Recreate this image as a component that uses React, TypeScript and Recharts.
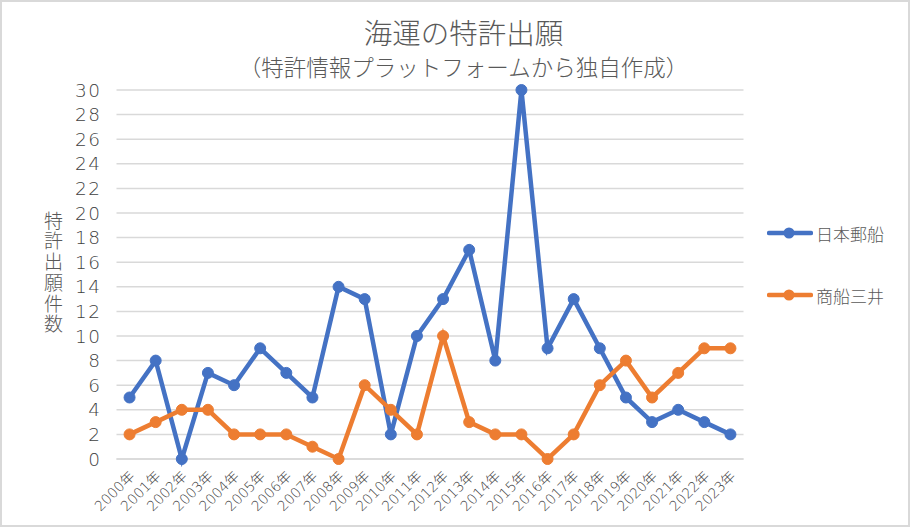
import React from "react";
import { LineChart, Line, XAxis, YAxis, CartesianGrid } from "recharts";

const years = ["2000年","2001年","2002年","2003年","2004年","2005年","2006年","2007年","2008年","2009年","2010年","2011年","2012年","2013年","2014年","2015年","2016年","2017年","2018年","2019年","2020年","2021年","2022年","2023年"];
const nyk = [5, 8, 0, 7, 6, 9, 7, 5, 14, 13, 2, 10, 13, 17, 8, 30, 9, 13, 9, 5, 3, 4, 3, 2];
const mol = [2, 3, 4, 4, 2, 2, 2, 1, 0, 6, 4, 2, 10, 3, 2, 2, 0, 2, 6, 8, 5, 7, 9, 9];
const yTicks = [0, 2, 4, 6, 8, 10, 12, 14, 16, 18, 20, 22, 24, 26, 28, 30];
const seriesNames = ["日本郵船", "商船三井"];
const title = "海運の特許出願";
const subtitle = "（特許情報プラットフォームから独自作成）";
const yLabel = "特許出願件数";

const data = years.map((y, i) => ({ year: y, nyk: nyk[i], mol: mol[i] }));

const BLUE = "#4472C4";
const ORANGE = "#ED7D31";
const TEXT = "#595959";
const NUMC = "#3f3f3f";
const JP = "'Noto Sans CJK JP', 'Noto Sans', sans-serif";
const NUM = "'DejaVu Sans', 'Noto Sans CJK JP', sans-serif";

const XTick = (props: any) => {
  const { x, y, payload } = props;
  return (
    <text
      transform={`translate(${x + 6},${y + 18}) rotate(-45)`}
      textAnchor="end"
      fontSize={14}
      fontFamily={NUM}
      fontWeight={300}
      fill={NUMC}
    >
      {payload.value}
    </text>
  );
};

const YTick = (props: any) => {
  const { x, y, payload } = props;
  return (
    <text x={x} y={y} dy={6.5} textAnchor="end" fontSize={18.5} letterSpacing={1.5} fontFamily={NUM} fontWeight={300} fill={NUMC}>
      {payload.value}
    </text>
  );
};

export default function App() {
  return (
    <div style={{ position: "absolute", left: 0, top: 0, width: 910, height: 527, background: "#fff", fontFamily: JP }}>
      <LineChart
        width={910}
        height={527}
        data={data}
        margin={{ top: 90, right: 166.5, bottom: 0, left: 0 }}
      >
        <CartesianGrid vertical={false} stroke="#d9d9d9" strokeWidth={1.5} />
        <XAxis
          dataKey="year"
          interval={0}
          padding={{ left: 13.06, right: 13.06 }}
          height={68}
          tickLine={false}
          axisLine={{ stroke: "#d9d9d9", strokeWidth: 1.5 }}
          tickSize={0}
          tickMargin={0}
          tick={<XTick />}
        />
        <YAxis
          type="number"
          domain={[0, 30]}
          ticks={yTicks}
          interval={0}
          width={116.5}
          axisLine={false}
          tickLine={false}
          tickSize={0}
          tickMargin={15}
          tick={<YTick />}
        />
        <Line
          dataKey="nyk"
          name={seriesNames[0]}
          stroke={BLUE}
          strokeWidth={4.5}
          dot={{ r: 5.5, fill: BLUE, stroke: BLUE, strokeWidth: 1 }}
          isAnimationActive={false}
        />
        <Line
          dataKey="mol"
          name={seriesNames[1]}
          stroke={ORANGE}
          strokeWidth={4.5}
          dot={{ r: 5.5, fill: ORANGE, stroke: ORANGE, strokeWidth: 1 }}
          isAnimationActive={false}
        />
      </LineChart>

      <div style={{ position: "absolute", left: 0, top: 16, width: 927, textAlign: "center", fontSize: 28.5, color: TEXT, fontWeight: 300, lineHeight: "32px", whiteSpace: "nowrap" }}>
        {title}
      </div>
      <div style={{ position: "absolute", left: 0, top: 53, width: 927, textAlign: "center", fontSize: 22.5, color: TEXT, fontWeight: 300, lineHeight: "26px", whiteSpace: "nowrap" }}>
        {subtitle}
      </div>

      <div style={{ position: "absolute", left: 42, top: 211, height: 130, writingMode: "vertical-rl", fontSize: 19, letterSpacing: "1.7px", color: TEXT, fontWeight: 300, lineHeight: "22px", whiteSpace: "nowrap" }}>
        {yLabel}
      </div>

      {[BLUE, ORANGE].map((c, i) => (
        <div key={i} style={{ position: "absolute", left: 767, top: i === 0 ? 221 : 283, height: 24, display: "flex", alignItems: "center" }}>
          <svg width={46} height={24}>
            <line x1={2} y1={12} x2={44} y2={12} stroke={c} strokeWidth={4.5} strokeLinecap="round" />
            <circle cx={22} cy={12} r={5.5} fill={c} />
          </svg>
          <span style={{ marginLeft: 3, fontSize: 17, color: TEXT, fontWeight: 300, whiteSpace: "nowrap" }}>{seriesNames[i]}</span>
        </div>
      ))}

      <div style={{ position: "absolute", left: 0, top: 0, width: 910, height: 527, boxSizing: "border-box", border: "2px solid #d9d9d9", pointerEvents: "none" }} />
    </div>
  );
}
